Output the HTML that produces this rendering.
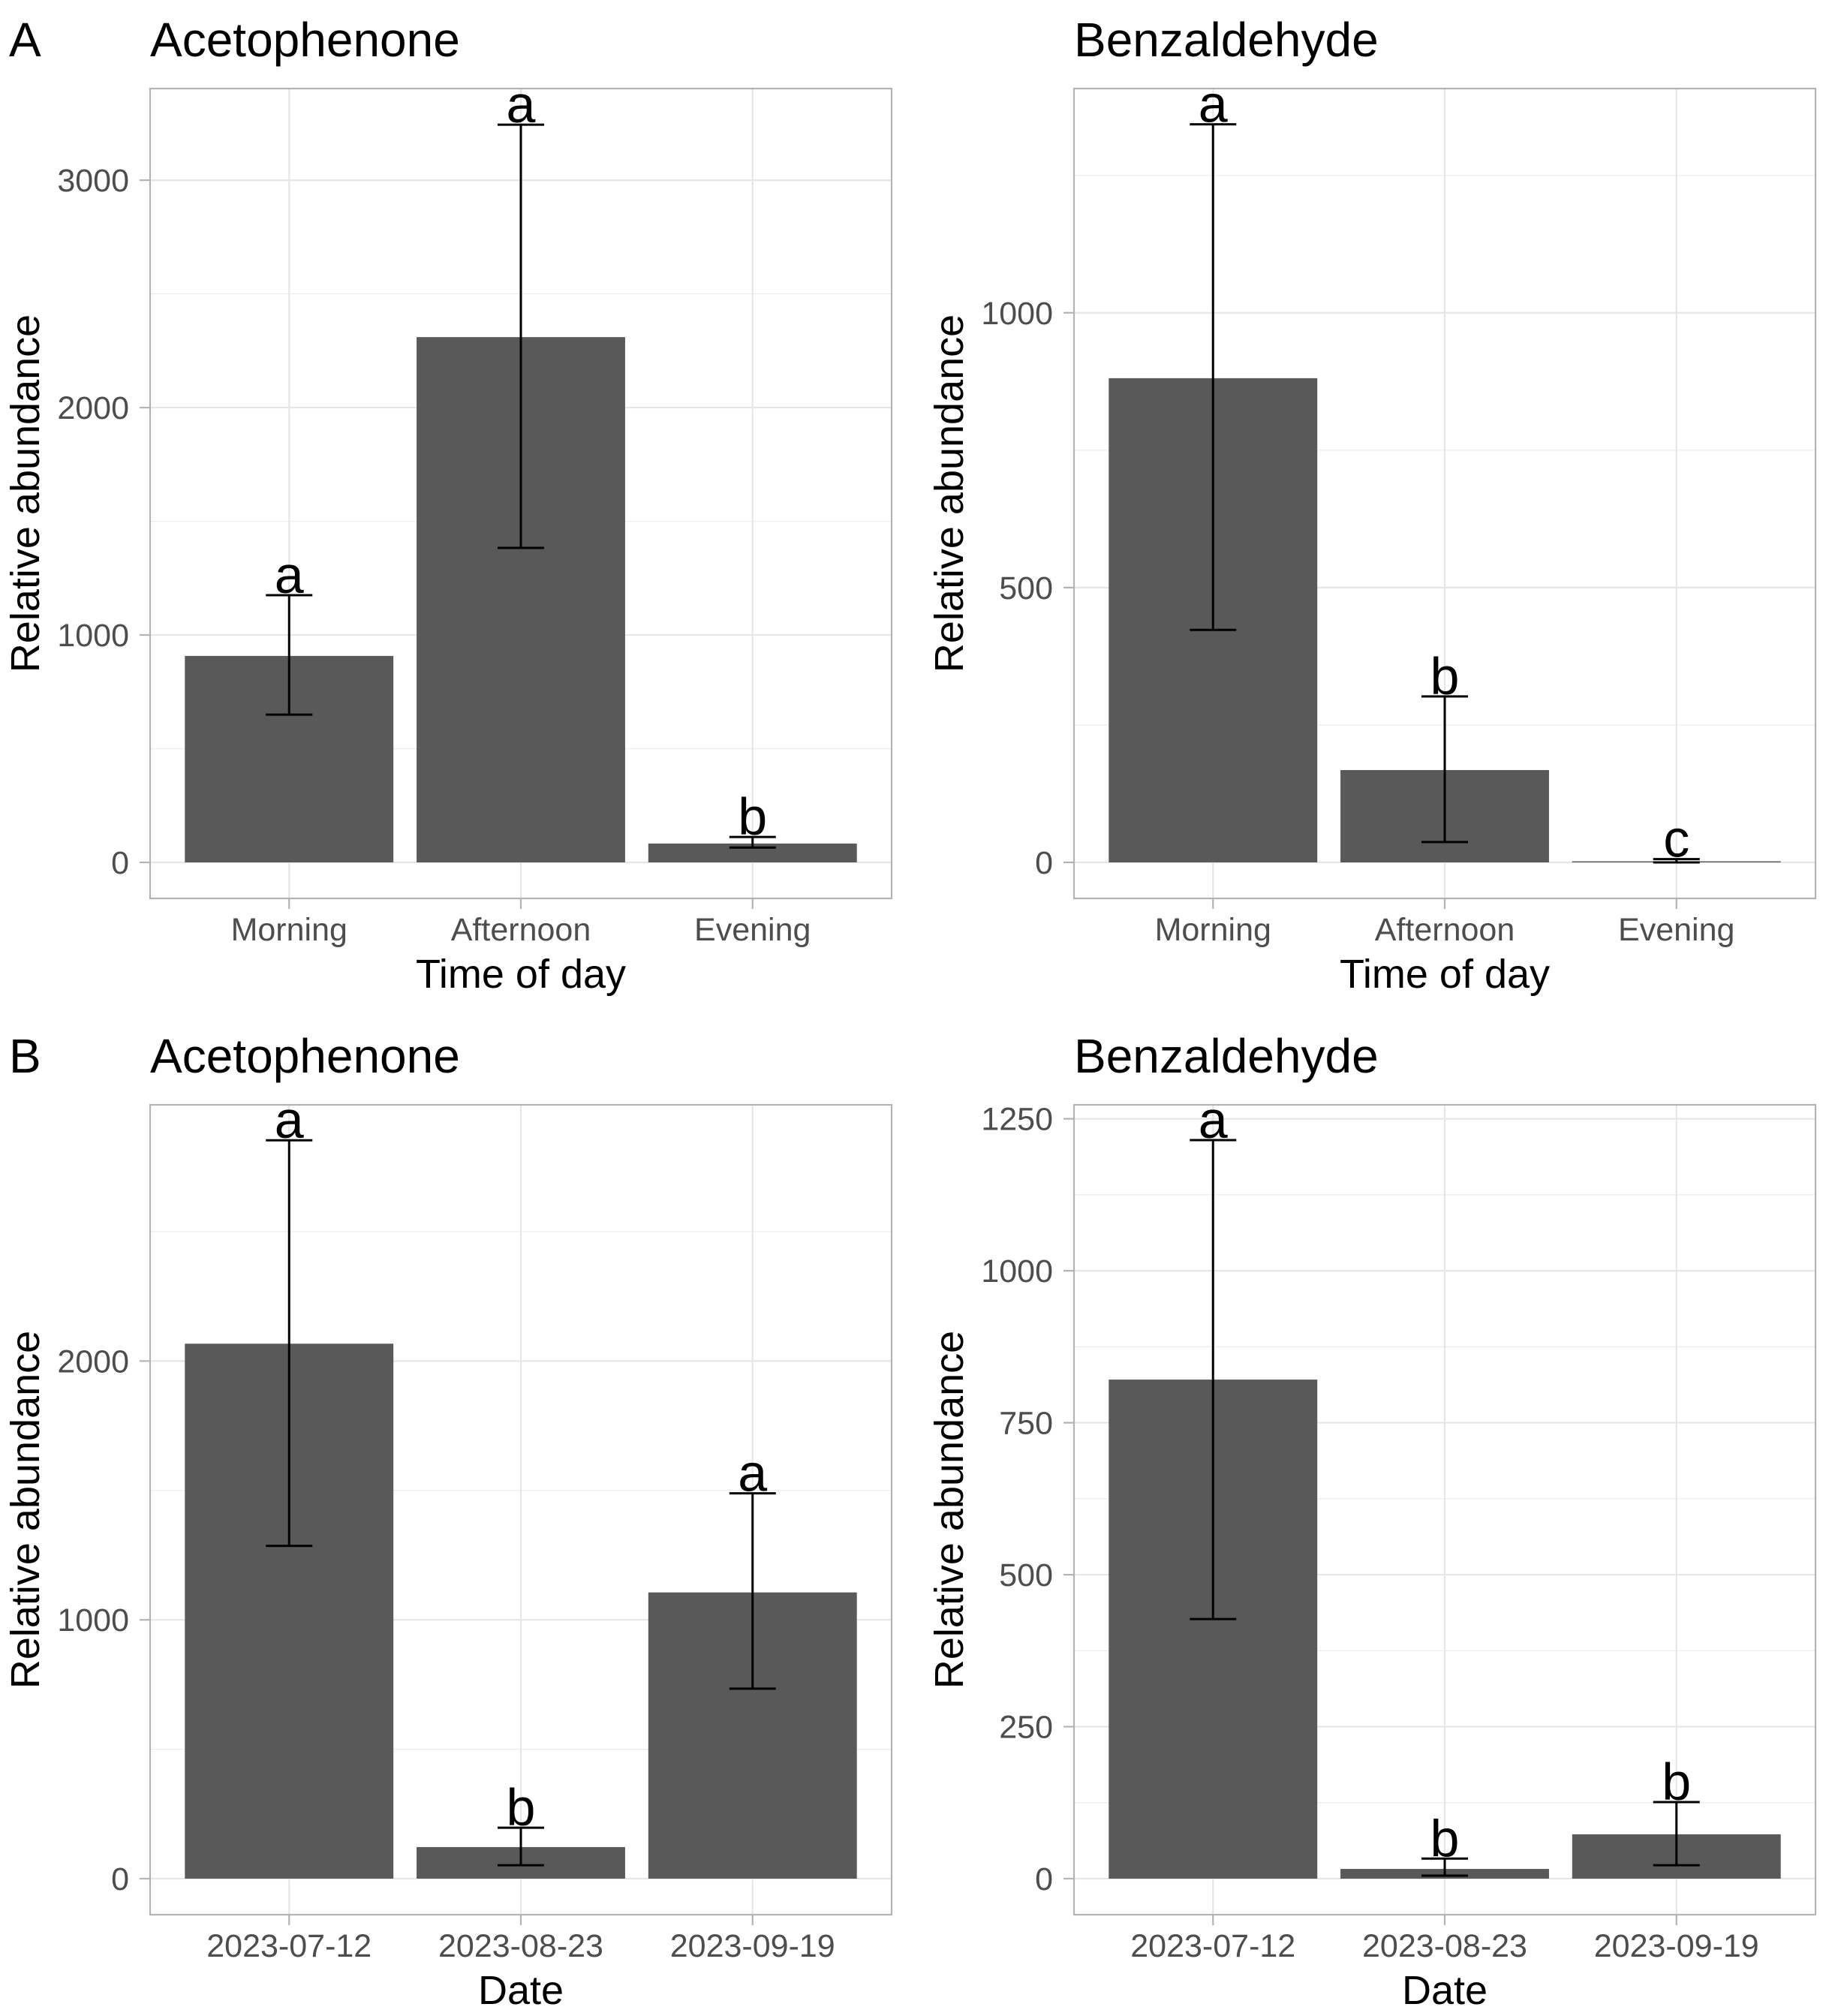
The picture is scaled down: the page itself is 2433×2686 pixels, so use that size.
<!DOCTYPE html>
<html><head><meta charset="utf-8"><style>
html,body{margin:0;padding:0;background:#fff;}
svg{display:block;font-family:"Liberation Sans",Arial,sans-serif;}
</style></head><body>
<svg id="fig" width="2433" height="2686" viewBox="0 0 2433 2686" xmlns="http://www.w3.org/2000/svg">
<rect width="2433" height="2686" fill="#fff"/>
<text x="12" y="75" font-size="64" fill="#000">A</text>
<text x="12" y="1429" font-size="64" fill="#000">B</text>
</svg>
<script>
// Panel A left: Acetophenone by time of day
const catsTime = ["Morning","Afternoon","Evening"];
const catsDate = ["2023-07-12","2023-08-23","2023-09-19"];
const acetoTimeMean = [908, 2310, 83];
const acetoTimeHi = [1175, 3244, 112];
const acetoTimeLo = [650, 1383, 65];
const acetoTimeLetters = ["a","a","b"];
const acetoTimeTicks = [0, 1000, 2000, 3000];
const acetoTimeMinor = [500, 1500, 2500];
// Panel A right: Benzaldehyde by time of day
const benzTimeMean = [881, 168, 2];
const benzTimeHi = [1343, 302, 6];
const benzTimeLo = [423, 37, 0];
const benzTimeLetters = ["a","b","c"];
const benzTimeTicks = [0, 500, 1000];
const benzTimeMinor = [250, 750, 1250];
// Panel B left: Acetophenone by date
const acetoDateMean = [2067, 122, 1106];
const acetoDateHi = [2853, 197, 1489];
const acetoDateLo = [1286, 52, 734];
const acetoDateLetters = ["a","b","a"];
const acetoDateTicks = [0, 1000, 2000];
const acetoDateMinor = [500, 1500, 2500];
// Panel B right: Benzaldehyde by date
const benzDateMean = [821, 16, 73];
const benzDateHi = [1215, 33, 126];
const benzDateLo = [427, 5, 22];
const benzDateLetters = ["a","b","b"];
const benzDateTicks = [0, 250, 500, 750, 1000, 1250];
const benzDateMinor = [125, 375, 625, 875, 1125];

const NS = "http://www.w3.org/2000/svg";
const svg = document.getElementById("fig");
function mk(tag, attrs, parent){
  const e = document.createElementNS(NS, tag);
  for (const k in attrs) e.setAttribute(k, attrs[k]);
  (parent||svg).appendChild(e);
  return e;
}
function panel(o){
  const g = mk("g", {});
  
  
  const L=o.left, T=o.top, W=988, H=1079;
  const B=T+H, zero=B-48, yMax=o.yTop;
  const ys = v => zero - v*(zero-T)/yMax;
  const step = W/ (o.cats.length - 1 + 1.2);
  const xs = i => L + step*0.6 + i*step;
  const bw = step*0.9;
  // title
  const t = mk("text",{x:L,y:T-43,"font-size":64,fill:"#000"},g); t.textContent=o.title;
  
  
  // grid minor
  o.minor.forEach(v=>{ if(v<yMax){ const y=ys(v);
    const l=mk("line",{x1:L,x2:L+W,y1:y,y2:y,stroke:"#ebebeb","stroke-width":1.2},g);
    
     }});
  o.ticks.forEach(v=>{ const y=ys(v);
    const l=mk("line",{x1:L,x2:L+W,y1:y,y2:y,stroke:"#e6e6e6","stroke-width":2.2},g);
    
    
    const tk=mk("line",{x1:L-14,x2:L,y1:y,y2:y,stroke:"#b3b3b3","stroke-width":2.2},g);
    
    
    const tl=mk("text",{x:L-28,y:y+15,"font-size":43,fill:"#4d4d4d","text-anchor":"end"},g);
    tl.textContent=v;
    
    
  });
  o.cats.forEach((c,i)=>{ const x=xs(i);
    const l=mk("line",{x1:x,x2:x,y1:T,y2:B,stroke:"#e6e6e6","stroke-width":2.2},g);
    
    
    const tk=mk("line",{x1:x,x2:x,y1:B,y2:B+14,stroke:"#b3b3b3","stroke-width":2.2},g);
    
    
    const tl=mk("text",{x:x,y:B+56,"font-size":43,fill:"#4d4d4d","text-anchor":"middle"},g);
    tl.textContent=c;
    
    
  });
  // bars
  o.mean.forEach((v,i)=>{ const x=xs(i), y=ys(v);
    const r=mk("rect",{x:x-bw/2,y:y,width:bw,height:zero-y,fill:"#595959"},g);
    
    
  });
  o.mean.forEach((v,i)=>{ const x=xs(i), yh=ys(o.hi[i]), yl=ys(o.lo[i]);
    const eg=mk("g",{stroke:"#000","stroke-width":3},g);
    
    
    mk("line",{x1:x,x2:x,y1:yh,y2:yl},eg);
    mk("line",{x1:x-31,x2:x+31,y1:yh,y2:yh},eg);
    mk("line",{x1:x-31,x2:x+31,y1:yl,y2:yl},eg);
    const lt=mk("text",{x:x,y:yh-3,"font-size":70,fill:"#000","text-anchor":"middle"},g);
    lt.textContent=o.letters[i];
    
    
  });
  const fr=mk("rect",{x:L,y:T,width:W,height:H,fill:"none",stroke:"#b3b3b3","stroke-width":2.2},g);
  
  
  const xt=mk("text",{x:L+W/2,y:B+119,"font-size":54,fill:"#000","text-anchor":"middle"},g);
  xt.textContent=o.xlab;
  
  
  const cy=T+(zero-T)/2+24;
  const yt=mk("text",{x:0,y:0,"font-size":54,fill:"#000","text-anchor":"middle",transform:`translate(${L-148},${T+H/2}) rotate(-90)`},g);
  yt.textContent="Relative abundance";
  
  
}
panel({name:"panel-a-acetophenone",left:200,top:118,yTop:3403,title:"Acetophenone",xlab:"Time of day",cats:catsTime,mean:acetoTimeMean,hi:acetoTimeHi,lo:acetoTimeLo,letters:acetoTimeLetters,ticks:acetoTimeTicks,minor:acetoTimeMinor});
panel({name:"panel-a-benzaldehyde",left:1431,top:118,yTop:1408,title:"Benzaldehyde",xlab:"Time of day",cats:catsTime,mean:benzTimeMean,hi:benzTimeHi,lo:benzTimeLo,letters:benzTimeLetters,ticks:benzTimeTicks,minor:benzTimeMinor});
panel({name:"panel-b-acetophenone",left:200,top:1472,yTop:2990,title:"Acetophenone",xlab:"Date",cats:catsDate,mean:acetoDateMean,hi:acetoDateHi,lo:acetoDateLo,letters:acetoDateLetters,ticks:acetoDateTicks,minor:acetoDateMinor});
panel({name:"panel-b-benzaldehyde",left:1431,top:1472,yTop:1273,title:"Benzaldehyde",xlab:"Date",cats:catsDate,mean:benzDateMean,hi:benzDateHi,lo:benzDateLo,letters:benzDateLetters,ticks:benzDateTicks,minor:benzDateMinor});
</script>
</body></html>
